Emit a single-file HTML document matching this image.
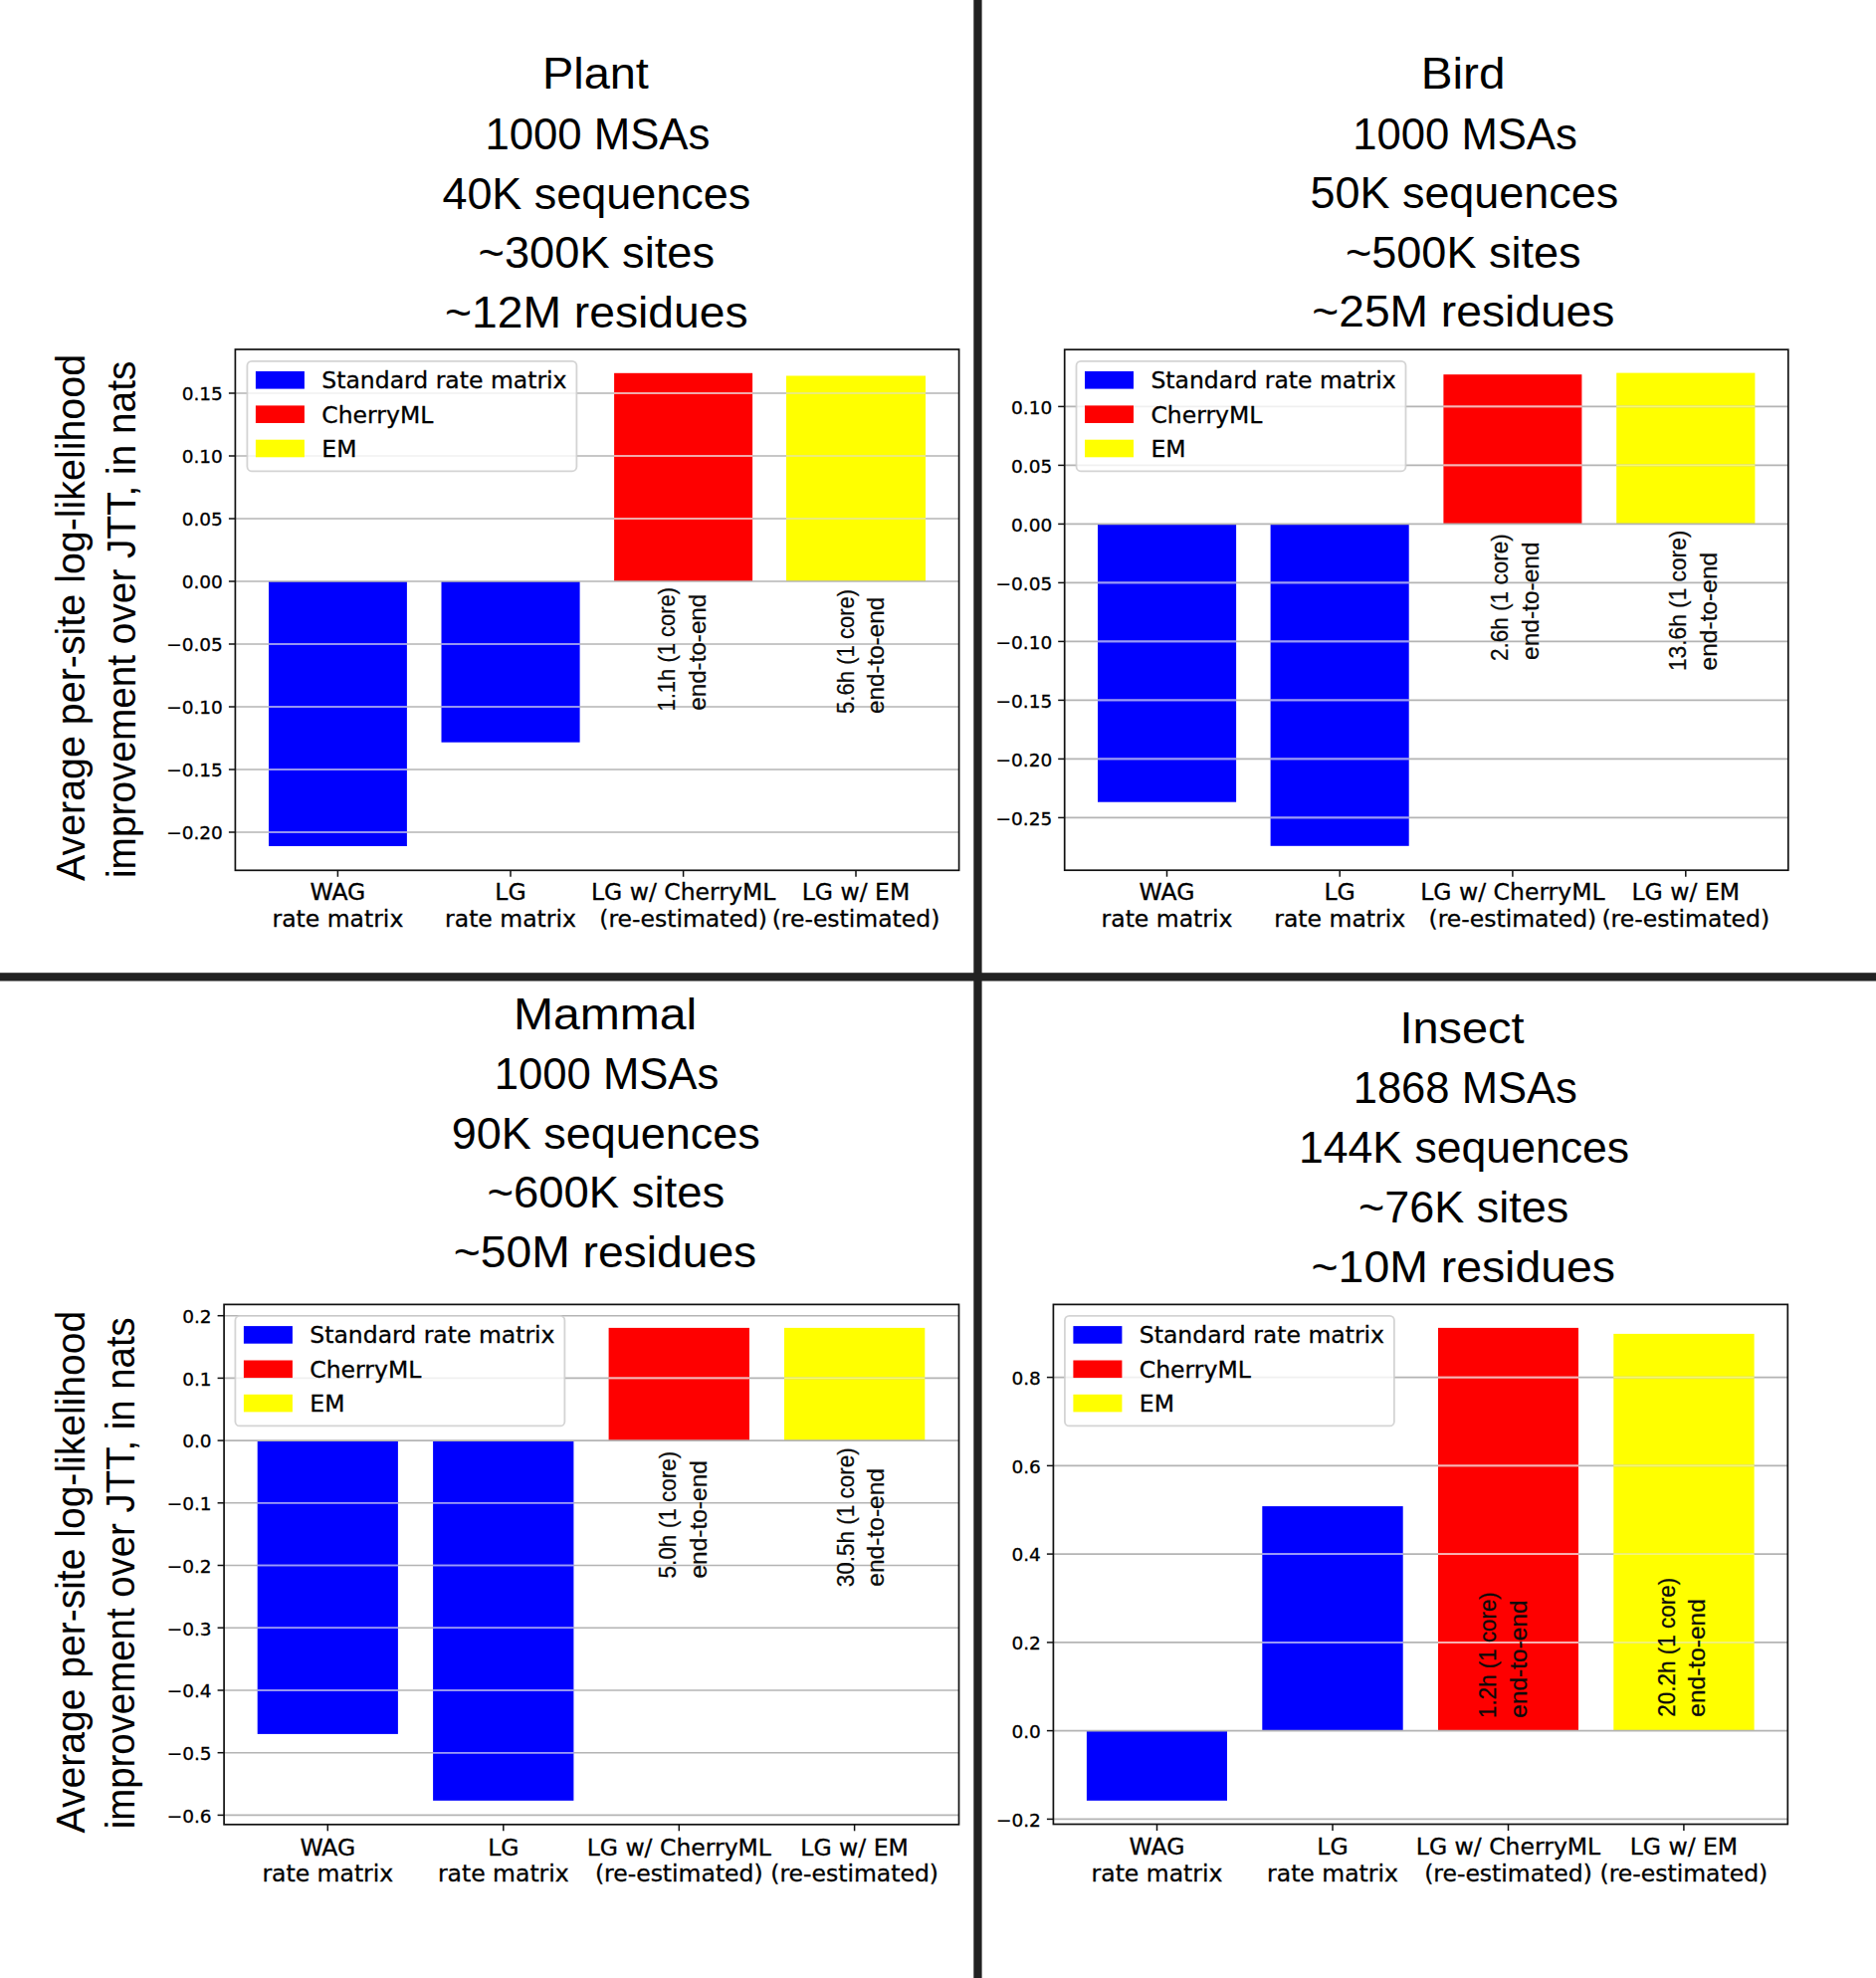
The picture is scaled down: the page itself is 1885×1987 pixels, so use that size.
<!DOCTYPE html>
<html lang="en"><head><meta charset="utf-8"><title>CherryML vs EM benchmark</title>
<style>
html,body{margin:0;padding:0;background:#fff;}
body{width:1885px;height:1987px;overflow:hidden;font-family:"Liberation Sans","DejaVu Sans",sans-serif;}
svg{display:block;}
text{white-space:pre;}
</style></head><body>
<svg width="1885" height="1987" viewBox="0 0 1885 1987">
<rect width="1885" height="1987" fill="#ffffff"/>
<rect x="270.0" y="584.0" width="138.9" height="266.0" fill="#0000fe"/>
<rect x="443.5" y="584.0" width="139.1" height="161.7" fill="#0000fe"/>
<rect x="617.1" y="374.8" width="139.0" height="209.2" fill="#fe0000"/>
<rect x="790.0" y="377.5" width="140.0" height="206.5" fill="#ffff00"/>
<line x1="236.4" x2="963.6" y1="395.0" y2="395.0" stroke="#b4b4b4" stroke-width="1.6"/>
<line x1="236.4" x2="963.6" y1="458.0" y2="458.0" stroke="#b4b4b4" stroke-width="1.6"/>
<line x1="236.4" x2="963.6" y1="521.0" y2="521.0" stroke="#b4b4b4" stroke-width="1.6"/>
<line x1="236.4" x2="963.6" y1="584.0" y2="584.0" stroke="#b4b4b4" stroke-width="1.6"/>
<line x1="236.4" x2="963.6" y1="647.0" y2="647.0" stroke="#b4b4b4" stroke-width="1.6"/>
<line x1="236.4" x2="963.6" y1="710.0" y2="710.0" stroke="#b4b4b4" stroke-width="1.6"/>
<line x1="236.4" x2="963.6" y1="773.0" y2="773.0" stroke="#b4b4b4" stroke-width="1.6"/>
<line x1="236.4" x2="963.6" y1="836.0" y2="836.0" stroke="#b4b4b4" stroke-width="1.6"/>
<line x1="270.0" x2="408.9" y1="647.0" y2="647.0" stroke="#9a9aff" stroke-width="1.6"/>
<line x1="270.0" x2="408.9" y1="710.0" y2="710.0" stroke="#9a9aff" stroke-width="1.6"/>
<line x1="270.0" x2="408.9" y1="773.0" y2="773.0" stroke="#9a9aff" stroke-width="1.6"/>
<line x1="270.0" x2="408.9" y1="836.0" y2="836.0" stroke="#9a9aff" stroke-width="1.6"/>
<line x1="443.5" x2="582.6" y1="647.0" y2="647.0" stroke="#9a9aff" stroke-width="1.6"/>
<line x1="443.5" x2="582.6" y1="710.0" y2="710.0" stroke="#9a9aff" stroke-width="1.6"/>
<line x1="617.1" x2="756.1" y1="395.0" y2="395.0" stroke="#ffb4b4" stroke-width="1.6"/>
<line x1="617.1" x2="756.1" y1="458.0" y2="458.0" stroke="#ffb4b4" stroke-width="1.6"/>
<line x1="617.1" x2="756.1" y1="521.0" y2="521.0" stroke="#ffb4b4" stroke-width="1.6"/>
<line x1="790.0" x2="930.0" y1="395.0" y2="395.0" stroke="#f8f870" stroke-width="1.6"/>
<line x1="790.0" x2="930.0" y1="458.0" y2="458.0" stroke="#f8f870" stroke-width="1.6"/>
<line x1="790.0" x2="930.0" y1="521.0" y2="521.0" stroke="#f8f870" stroke-width="1.6"/>
<text transform="translate(677.5,714.5) rotate(-90)" font-family="'Liberation Sans','DejaVu Sans',sans-serif" font-size="24.0" textLength="124.6" lengthAdjust="spacingAndGlyphs" fill="#0a0a0a" stroke="#0a0a0a" stroke-width="0.25">1.1h (1 core)</text>
<text transform="translate(709.0,713.8) rotate(-90)" font-family="'Liberation Sans','DejaVu Sans',sans-serif" font-size="24.0" textLength="117.1" lengthAdjust="spacingAndGlyphs" fill="#0a0a0a" stroke="#0a0a0a" stroke-width="0.25">end-to-end</text>
<text transform="translate(858.0,716.9) rotate(-90)" font-family="'Liberation Sans','DejaVu Sans',sans-serif" font-size="24.0" textLength="125.1" lengthAdjust="spacingAndGlyphs" fill="#0a0a0a" stroke="#0a0a0a" stroke-width="0.25">5.6h (1 core)</text>
<text transform="translate(887.5,717.0) rotate(-90)" font-family="'Liberation Sans','DejaVu Sans',sans-serif" font-size="24.0" textLength="117.3" lengthAdjust="spacingAndGlyphs" fill="#0a0a0a" stroke="#0a0a0a" stroke-width="0.25">end-to-end</text>
<rect x="236.4" y="351.0" width="727.2" height="523.3" fill="none" stroke="#111" stroke-width="1.7"/>
<line x1="229.9" x2="236.4" y1="395.0" y2="395.0" stroke="#111" stroke-width="1.5"/>
<text x="223.9" y="402.3" text-anchor="end" font-family="'DejaVu Sans','Liberation Sans',sans-serif" font-size="18.5" fill="#000" stroke="#000" stroke-width="0.3">0.15</text>
<line x1="229.9" x2="236.4" y1="458.0" y2="458.0" stroke="#111" stroke-width="1.5"/>
<text x="223.9" y="465.3" text-anchor="end" font-family="'DejaVu Sans','Liberation Sans',sans-serif" font-size="18.5" fill="#000" stroke="#000" stroke-width="0.3">0.10</text>
<line x1="229.9" x2="236.4" y1="521.0" y2="521.0" stroke="#111" stroke-width="1.5"/>
<text x="223.9" y="528.3" text-anchor="end" font-family="'DejaVu Sans','Liberation Sans',sans-serif" font-size="18.5" fill="#000" stroke="#000" stroke-width="0.3">0.05</text>
<line x1="229.9" x2="236.4" y1="584.0" y2="584.0" stroke="#111" stroke-width="1.5"/>
<text x="223.9" y="591.3" text-anchor="end" font-family="'DejaVu Sans','Liberation Sans',sans-serif" font-size="18.5" fill="#000" stroke="#000" stroke-width="0.3">0.00</text>
<line x1="229.9" x2="236.4" y1="647.0" y2="647.0" stroke="#111" stroke-width="1.5"/>
<text x="223.9" y="654.3" text-anchor="end" font-family="'DejaVu Sans','Liberation Sans',sans-serif" font-size="18.5" fill="#000" stroke="#000" stroke-width="0.3">−0.05</text>
<line x1="229.9" x2="236.4" y1="710.0" y2="710.0" stroke="#111" stroke-width="1.5"/>
<text x="223.9" y="717.3" text-anchor="end" font-family="'DejaVu Sans','Liberation Sans',sans-serif" font-size="18.5" fill="#000" stroke="#000" stroke-width="0.3">−0.10</text>
<line x1="229.9" x2="236.4" y1="773.0" y2="773.0" stroke="#111" stroke-width="1.5"/>
<text x="223.9" y="780.3" text-anchor="end" font-family="'DejaVu Sans','Liberation Sans',sans-serif" font-size="18.5" fill="#000" stroke="#000" stroke-width="0.3">−0.15</text>
<line x1="229.9" x2="236.4" y1="836.0" y2="836.0" stroke="#111" stroke-width="1.5"/>
<text x="223.9" y="843.3" text-anchor="end" font-family="'DejaVu Sans','Liberation Sans',sans-serif" font-size="18.5" fill="#000" stroke="#000" stroke-width="0.3">−0.20</text>
<line x1="339.4" x2="339.4" y1="874.3" y2="880.8" stroke="#111" stroke-width="1.5"/>
<text x="339.4" y="904.2" text-anchor="middle" font-family="'DejaVu Sans','Liberation Sans',sans-serif" font-size="23.5" fill="#000" stroke="#000" stroke-width="0.3">WAG</text>
<text x="339.4" y="930.7" text-anchor="middle" font-family="'DejaVu Sans','Liberation Sans',sans-serif" font-size="23.5" fill="#000" stroke="#000" stroke-width="0.3">rate matrix</text>
<line x1="513.0" x2="513.0" y1="874.3" y2="880.8" stroke="#111" stroke-width="1.5"/>
<text x="513.0" y="904.2" text-anchor="middle" font-family="'DejaVu Sans','Liberation Sans',sans-serif" font-size="23.5" fill="#000" stroke="#000" stroke-width="0.3">LG</text>
<text x="513.0" y="930.7" text-anchor="middle" font-family="'DejaVu Sans','Liberation Sans',sans-serif" font-size="23.5" fill="#000" stroke="#000" stroke-width="0.3">rate matrix</text>
<line x1="686.6" x2="686.6" y1="874.3" y2="880.8" stroke="#111" stroke-width="1.5"/>
<text x="686.6" y="904.2" text-anchor="middle" font-family="'DejaVu Sans','Liberation Sans',sans-serif" font-size="23.5" fill="#000" stroke="#000" stroke-width="0.3">LG w/ CherryML</text>
<text x="686.6" y="930.7" text-anchor="middle" font-family="'DejaVu Sans','Liberation Sans',sans-serif" font-size="23.5" fill="#000" stroke="#000" stroke-width="0.3">(re-estimated)</text>
<line x1="860.0" x2="860.0" y1="874.3" y2="880.8" stroke="#111" stroke-width="1.5"/>
<text x="860.0" y="904.2" text-anchor="middle" font-family="'DejaVu Sans','Liberation Sans',sans-serif" font-size="23.5" fill="#000" stroke="#000" stroke-width="0.3">LG w/ EM</text>
<text x="860.0" y="930.7" text-anchor="middle" font-family="'DejaVu Sans','Liberation Sans',sans-serif" font-size="23.5" fill="#000" stroke="#000" stroke-width="0.3">(re-estimated)</text>
<rect x="248.4" y="362.8" width="331.0" height="110.5" rx="4.5" ry="4.5" fill="#ffffff" fill-opacity="0.8" stroke="#cccccc" stroke-opacity="0.85" stroke-width="1.8"/>
<rect x="256.9" y="373.0" width="49" height="17.6" fill="#0000fe"/>
<text x="323.3" y="390.2" font-family="'DejaVu Sans','Liberation Sans',sans-serif" font-size="23.5" fill="#000" stroke="#000" stroke-width="0.3">Standard rate matrix</text>
<rect x="256.9" y="407.4" width="49" height="17.6" fill="#fe0000"/>
<text x="323.3" y="424.6" font-family="'DejaVu Sans','Liberation Sans',sans-serif" font-size="23.5" fill="#000" stroke="#000" stroke-width="0.3">CherryML</text>
<rect x="256.9" y="441.7" width="49" height="17.6" fill="#ffff00"/>
<text x="323.3" y="458.9" font-family="'DejaVu Sans','Liberation Sans',sans-serif" font-size="23.5" fill="#000" stroke="#000" stroke-width="0.3">EM</text>
<text x="544.9" y="89.3" font-family="'Liberation Sans','DejaVu Sans',sans-serif" font-size="45.0" textLength="107.0" lengthAdjust="spacingAndGlyphs" fill="#000">Plant</text>
<text x="487.4" y="149.6" font-family="'Liberation Sans','DejaVu Sans',sans-serif" font-size="45.0" textLength="226.0" lengthAdjust="spacingAndGlyphs" fill="#000">1000 MSAs</text>
<text x="444.4" y="209.5" font-family="'Liberation Sans','DejaVu Sans',sans-serif" font-size="45.0" textLength="309.8" lengthAdjust="spacingAndGlyphs" fill="#000">40K sequences</text>
<text x="480.6" y="269.3" font-family="'Liberation Sans','DejaVu Sans',sans-serif" font-size="45.0" textLength="237.4" lengthAdjust="spacingAndGlyphs" fill="#000">~300K sites</text>
<text x="447.0" y="329.1" font-family="'Liberation Sans','DejaVu Sans',sans-serif" font-size="45.0" textLength="304.6" lengthAdjust="spacingAndGlyphs" fill="#000">~12M residues</text>
<text transform="translate(85.4,885.1) rotate(-90)" font-family="'Liberation Sans','DejaVu Sans',sans-serif" font-size="41.0" textLength="529.2" lengthAdjust="spacingAndGlyphs" fill="#000">Average per-site log-likelihood</text>
<text transform="translate(135.6,882.0) rotate(-90)" font-family="'Liberation Sans','DejaVu Sans',sans-serif" font-size="41.0" textLength="519.3" lengthAdjust="spacingAndGlyphs" fill="#000">improvement over JTT, in nats</text>
<rect x="1103.0" y="526.4" width="139.1" height="279.3" fill="#0000fe"/>
<rect x="1276.6" y="526.4" width="139.1" height="323.4" fill="#0000fe"/>
<rect x="1450.4" y="376.2" width="139.0" height="150.2" fill="#fe0000"/>
<rect x="1624.2" y="374.6" width="139.2" height="151.8" fill="#ffff00"/>
<line x1="1069.7" x2="1796.8" y1="408.4" y2="408.4" stroke="#b4b4b4" stroke-width="1.6"/>
<line x1="1069.7" x2="1796.8" y1="467.4" y2="467.4" stroke="#b4b4b4" stroke-width="1.6"/>
<line x1="1069.7" x2="1796.8" y1="526.4" y2="526.4" stroke="#b4b4b4" stroke-width="1.6"/>
<line x1="1069.7" x2="1796.8" y1="585.4" y2="585.4" stroke="#b4b4b4" stroke-width="1.6"/>
<line x1="1069.7" x2="1796.8" y1="644.4" y2="644.4" stroke="#b4b4b4" stroke-width="1.6"/>
<line x1="1069.7" x2="1796.8" y1="703.4" y2="703.4" stroke="#b4b4b4" stroke-width="1.6"/>
<line x1="1069.7" x2="1796.8" y1="762.4" y2="762.4" stroke="#b4b4b4" stroke-width="1.6"/>
<line x1="1069.7" x2="1796.8" y1="821.4" y2="821.4" stroke="#b4b4b4" stroke-width="1.6"/>
<line x1="1103.0" x2="1242.1" y1="585.4" y2="585.4" stroke="#9a9aff" stroke-width="1.6"/>
<line x1="1103.0" x2="1242.1" y1="644.4" y2="644.4" stroke="#9a9aff" stroke-width="1.6"/>
<line x1="1103.0" x2="1242.1" y1="703.4" y2="703.4" stroke="#9a9aff" stroke-width="1.6"/>
<line x1="1103.0" x2="1242.1" y1="762.4" y2="762.4" stroke="#9a9aff" stroke-width="1.6"/>
<line x1="1276.6" x2="1415.7" y1="585.4" y2="585.4" stroke="#9a9aff" stroke-width="1.6"/>
<line x1="1276.6" x2="1415.7" y1="644.4" y2="644.4" stroke="#9a9aff" stroke-width="1.6"/>
<line x1="1276.6" x2="1415.7" y1="703.4" y2="703.4" stroke="#9a9aff" stroke-width="1.6"/>
<line x1="1276.6" x2="1415.7" y1="762.4" y2="762.4" stroke="#9a9aff" stroke-width="1.6"/>
<line x1="1276.6" x2="1415.7" y1="821.4" y2="821.4" stroke="#9a9aff" stroke-width="1.6"/>
<line x1="1450.4" x2="1589.4" y1="408.4" y2="408.4" stroke="#ffb4b4" stroke-width="1.6"/>
<line x1="1450.4" x2="1589.4" y1="467.4" y2="467.4" stroke="#ffb4b4" stroke-width="1.6"/>
<line x1="1624.2" x2="1763.4" y1="408.4" y2="408.4" stroke="#f8f870" stroke-width="1.6"/>
<line x1="1624.2" x2="1763.4" y1="467.4" y2="467.4" stroke="#f8f870" stroke-width="1.6"/>
<text transform="translate(1514.5,664.1) rotate(-90)" font-family="'Liberation Sans','DejaVu Sans',sans-serif" font-size="24.0" textLength="127.9" lengthAdjust="spacingAndGlyphs" fill="#0a0a0a" stroke="#0a0a0a" stroke-width="0.25">2.6h (1 core)</text>
<text transform="translate(1546.2,663.0) rotate(-90)" font-family="'Liberation Sans','DejaVu Sans',sans-serif" font-size="24.0" textLength="118.6" lengthAdjust="spacingAndGlyphs" fill="#0a0a0a" stroke="#0a0a0a" stroke-width="0.25">end-to-end</text>
<text transform="translate(1694.0,674.1) rotate(-90)" font-family="'Liberation Sans','DejaVu Sans',sans-serif" font-size="24.0" textLength="141.5" lengthAdjust="spacingAndGlyphs" fill="#0a0a0a" stroke="#0a0a0a" stroke-width="0.25">13.6h (1 core)</text>
<text transform="translate(1724.6,673.4) rotate(-90)" font-family="'Liberation Sans','DejaVu Sans',sans-serif" font-size="24.0" textLength="118.6" lengthAdjust="spacingAndGlyphs" fill="#0a0a0a" stroke="#0a0a0a" stroke-width="0.25">end-to-end</text>
<rect x="1069.7" y="351.2" width="727.1" height="523.0" fill="none" stroke="#111" stroke-width="1.7"/>
<line x1="1063.2" x2="1069.7" y1="408.4" y2="408.4" stroke="#111" stroke-width="1.5"/>
<text x="1057.2" y="415.7" text-anchor="end" font-family="'DejaVu Sans','Liberation Sans',sans-serif" font-size="18.5" fill="#000" stroke="#000" stroke-width="0.3">0.10</text>
<line x1="1063.2" x2="1069.7" y1="467.4" y2="467.4" stroke="#111" stroke-width="1.5"/>
<text x="1057.2" y="474.7" text-anchor="end" font-family="'DejaVu Sans','Liberation Sans',sans-serif" font-size="18.5" fill="#000" stroke="#000" stroke-width="0.3">0.05</text>
<line x1="1063.2" x2="1069.7" y1="526.4" y2="526.4" stroke="#111" stroke-width="1.5"/>
<text x="1057.2" y="533.7" text-anchor="end" font-family="'DejaVu Sans','Liberation Sans',sans-serif" font-size="18.5" fill="#000" stroke="#000" stroke-width="0.3">0.00</text>
<line x1="1063.2" x2="1069.7" y1="585.4" y2="585.4" stroke="#111" stroke-width="1.5"/>
<text x="1057.2" y="592.7" text-anchor="end" font-family="'DejaVu Sans','Liberation Sans',sans-serif" font-size="18.5" fill="#000" stroke="#000" stroke-width="0.3">−0.05</text>
<line x1="1063.2" x2="1069.7" y1="644.4" y2="644.4" stroke="#111" stroke-width="1.5"/>
<text x="1057.2" y="651.7" text-anchor="end" font-family="'DejaVu Sans','Liberation Sans',sans-serif" font-size="18.5" fill="#000" stroke="#000" stroke-width="0.3">−0.10</text>
<line x1="1063.2" x2="1069.7" y1="703.4" y2="703.4" stroke="#111" stroke-width="1.5"/>
<text x="1057.2" y="710.7" text-anchor="end" font-family="'DejaVu Sans','Liberation Sans',sans-serif" font-size="18.5" fill="#000" stroke="#000" stroke-width="0.3">−0.15</text>
<line x1="1063.2" x2="1069.7" y1="762.4" y2="762.4" stroke="#111" stroke-width="1.5"/>
<text x="1057.2" y="769.7" text-anchor="end" font-family="'DejaVu Sans','Liberation Sans',sans-serif" font-size="18.5" fill="#000" stroke="#000" stroke-width="0.3">−0.20</text>
<line x1="1063.2" x2="1069.7" y1="821.4" y2="821.4" stroke="#111" stroke-width="1.5"/>
<text x="1057.2" y="828.7" text-anchor="end" font-family="'DejaVu Sans','Liberation Sans',sans-serif" font-size="18.5" fill="#000" stroke="#000" stroke-width="0.3">−0.25</text>
<line x1="1172.5" x2="1172.5" y1="874.2" y2="880.7" stroke="#111" stroke-width="1.5"/>
<text x="1172.5" y="904.1" text-anchor="middle" font-family="'DejaVu Sans','Liberation Sans',sans-serif" font-size="23.5" fill="#000" stroke="#000" stroke-width="0.3">WAG</text>
<text x="1172.5" y="930.6" text-anchor="middle" font-family="'DejaVu Sans','Liberation Sans',sans-serif" font-size="23.5" fill="#000" stroke="#000" stroke-width="0.3">rate matrix</text>
<line x1="1346.2" x2="1346.2" y1="874.2" y2="880.7" stroke="#111" stroke-width="1.5"/>
<text x="1346.2" y="904.1" text-anchor="middle" font-family="'DejaVu Sans','Liberation Sans',sans-serif" font-size="23.5" fill="#000" stroke="#000" stroke-width="0.3">LG</text>
<text x="1346.2" y="930.6" text-anchor="middle" font-family="'DejaVu Sans','Liberation Sans',sans-serif" font-size="23.5" fill="#000" stroke="#000" stroke-width="0.3">rate matrix</text>
<line x1="1519.9" x2="1519.9" y1="874.2" y2="880.7" stroke="#111" stroke-width="1.5"/>
<text x="1519.9" y="904.1" text-anchor="middle" font-family="'DejaVu Sans','Liberation Sans',sans-serif" font-size="23.5" fill="#000" stroke="#000" stroke-width="0.3">LG w/ CherryML</text>
<text x="1519.9" y="930.6" text-anchor="middle" font-family="'DejaVu Sans','Liberation Sans',sans-serif" font-size="23.5" fill="#000" stroke="#000" stroke-width="0.3">(re-estimated)</text>
<line x1="1693.8" x2="1693.8" y1="874.2" y2="880.7" stroke="#111" stroke-width="1.5"/>
<text x="1693.8" y="904.1" text-anchor="middle" font-family="'DejaVu Sans','Liberation Sans',sans-serif" font-size="23.5" fill="#000" stroke="#000" stroke-width="0.3">LG w/ EM</text>
<text x="1693.8" y="930.6" text-anchor="middle" font-family="'DejaVu Sans','Liberation Sans',sans-serif" font-size="23.5" fill="#000" stroke="#000" stroke-width="0.3">(re-estimated)</text>
<rect x="1081.5" y="362.8" width="331.0" height="110.5" rx="4.5" ry="4.5" fill="#ffffff" fill-opacity="0.8" stroke="#cccccc" stroke-opacity="0.85" stroke-width="1.8"/>
<rect x="1090.0" y="373.0" width="49" height="17.6" fill="#0000fe"/>
<text x="1156.4" y="390.2" font-family="'DejaVu Sans','Liberation Sans',sans-serif" font-size="23.5" fill="#000" stroke="#000" stroke-width="0.3">Standard rate matrix</text>
<rect x="1090.0" y="407.4" width="49" height="17.6" fill="#fe0000"/>
<text x="1156.4" y="424.6" font-family="'DejaVu Sans','Liberation Sans',sans-serif" font-size="23.5" fill="#000" stroke="#000" stroke-width="0.3">CherryML</text>
<rect x="1090.0" y="441.7" width="49" height="17.6" fill="#ffff00"/>
<text x="1156.4" y="458.9" font-family="'DejaVu Sans','Liberation Sans',sans-serif" font-size="23.5" fill="#000" stroke="#000" stroke-width="0.3">EM</text>
<text x="1427.7" y="88.9" font-family="'Liberation Sans','DejaVu Sans',sans-serif" font-size="45.0" textLength="84.7" lengthAdjust="spacingAndGlyphs" fill="#000">Bird</text>
<text x="1359.2" y="150.0" font-family="'Liberation Sans','DejaVu Sans',sans-serif" font-size="45.0" textLength="225.6" lengthAdjust="spacingAndGlyphs" fill="#000">1000 MSAs</text>
<text x="1316.6" y="208.9" font-family="'Liberation Sans','DejaVu Sans',sans-serif" font-size="45.0" textLength="309.5" lengthAdjust="spacingAndGlyphs" fill="#000">50K sequences</text>
<text x="1351.9" y="268.9" font-family="'Liberation Sans','DejaVu Sans',sans-serif" font-size="45.0" textLength="236.7" lengthAdjust="spacingAndGlyphs" fill="#000">~500K sites</text>
<text x="1318.3" y="328.4" font-family="'Liberation Sans','DejaVu Sans',sans-serif" font-size="45.0" textLength="304.0" lengthAdjust="spacingAndGlyphs" fill="#000">~25M residues</text>
<rect x="258.7" y="1447.1" width="141.2" height="294.8" fill="#0000fe"/>
<rect x="435.1" y="1447.1" width="141.3" height="361.7" fill="#0000fe"/>
<rect x="611.6" y="1333.9" width="141.4" height="113.2" fill="#fe0000"/>
<rect x="788.0" y="1333.9" width="141.3" height="113.2" fill="#ffff00"/>
<line x1="225.1" x2="963.5" y1="1321.7" y2="1321.7" stroke="#b4b4b4" stroke-width="1.6"/>
<line x1="225.1" x2="963.5" y1="1384.4" y2="1384.4" stroke="#b4b4b4" stroke-width="1.6"/>
<line x1="225.1" x2="963.5" y1="1447.1" y2="1447.1" stroke="#b4b4b4" stroke-width="1.6"/>
<line x1="225.1" x2="963.5" y1="1509.8" y2="1509.8" stroke="#b4b4b4" stroke-width="1.6"/>
<line x1="225.1" x2="963.5" y1="1572.5" y2="1572.5" stroke="#b4b4b4" stroke-width="1.6"/>
<line x1="225.1" x2="963.5" y1="1635.2" y2="1635.2" stroke="#b4b4b4" stroke-width="1.6"/>
<line x1="225.1" x2="963.5" y1="1698.0" y2="1698.0" stroke="#b4b4b4" stroke-width="1.6"/>
<line x1="225.1" x2="963.5" y1="1760.7" y2="1760.7" stroke="#b4b4b4" stroke-width="1.6"/>
<line x1="225.1" x2="963.5" y1="1823.4" y2="1823.4" stroke="#b4b4b4" stroke-width="1.6"/>
<line x1="258.7" x2="399.9" y1="1509.8" y2="1509.8" stroke="#9a9aff" stroke-width="1.6"/>
<line x1="258.7" x2="399.9" y1="1572.5" y2="1572.5" stroke="#9a9aff" stroke-width="1.6"/>
<line x1="258.7" x2="399.9" y1="1635.2" y2="1635.2" stroke="#9a9aff" stroke-width="1.6"/>
<line x1="258.7" x2="399.9" y1="1698.0" y2="1698.0" stroke="#9a9aff" stroke-width="1.6"/>
<line x1="435.1" x2="576.4" y1="1509.8" y2="1509.8" stroke="#9a9aff" stroke-width="1.6"/>
<line x1="435.1" x2="576.4" y1="1572.5" y2="1572.5" stroke="#9a9aff" stroke-width="1.6"/>
<line x1="435.1" x2="576.4" y1="1635.2" y2="1635.2" stroke="#9a9aff" stroke-width="1.6"/>
<line x1="435.1" x2="576.4" y1="1698.0" y2="1698.0" stroke="#9a9aff" stroke-width="1.6"/>
<line x1="435.1" x2="576.4" y1="1760.7" y2="1760.7" stroke="#9a9aff" stroke-width="1.6"/>
<line x1="611.6" x2="753.0" y1="1384.4" y2="1384.4" stroke="#ffb4b4" stroke-width="1.6"/>
<line x1="788.0" x2="929.3" y1="1384.4" y2="1384.4" stroke="#f8f870" stroke-width="1.6"/>
<text transform="translate(678.5,1585.5) rotate(-90)" font-family="'Liberation Sans','DejaVu Sans',sans-serif" font-size="24.0" textLength="127.8" lengthAdjust="spacingAndGlyphs" fill="#0a0a0a" stroke="#0a0a0a" stroke-width="0.25">5.0h (1 core)</text>
<text transform="translate(709.7,1585.6) rotate(-90)" font-family="'Liberation Sans','DejaVu Sans',sans-serif" font-size="24.0" textLength="118.5" lengthAdjust="spacingAndGlyphs" fill="#0a0a0a" stroke="#0a0a0a" stroke-width="0.25">end-to-end</text>
<text transform="translate(858.4,1594.3) rotate(-90)" font-family="'Liberation Sans','DejaVu Sans',sans-serif" font-size="24.0" textLength="140.1" lengthAdjust="spacingAndGlyphs" fill="#0a0a0a" stroke="#0a0a0a" stroke-width="0.25">30.5h (1 core)</text>
<text transform="translate(888.0,1593.7) rotate(-90)" font-family="'Liberation Sans','DejaVu Sans',sans-serif" font-size="24.0" textLength="118.7" lengthAdjust="spacingAndGlyphs" fill="#0a0a0a" stroke="#0a0a0a" stroke-width="0.25">end-to-end</text>
<rect x="225.1" y="1310.4" width="738.4" height="522.4" fill="none" stroke="#111" stroke-width="1.7"/>
<line x1="218.6" x2="225.1" y1="1321.7" y2="1321.7" stroke="#111" stroke-width="1.5"/>
<text x="212.6" y="1329.0" text-anchor="end" font-family="'DejaVu Sans','Liberation Sans',sans-serif" font-size="18.5" fill="#000" stroke="#000" stroke-width="0.3">0.2</text>
<line x1="218.6" x2="225.1" y1="1384.4" y2="1384.4" stroke="#111" stroke-width="1.5"/>
<text x="212.6" y="1391.7" text-anchor="end" font-family="'DejaVu Sans','Liberation Sans',sans-serif" font-size="18.5" fill="#000" stroke="#000" stroke-width="0.3">0.1</text>
<line x1="218.6" x2="225.1" y1="1447.1" y2="1447.1" stroke="#111" stroke-width="1.5"/>
<text x="212.6" y="1454.4" text-anchor="end" font-family="'DejaVu Sans','Liberation Sans',sans-serif" font-size="18.5" fill="#000" stroke="#000" stroke-width="0.3">0.0</text>
<line x1="218.6" x2="225.1" y1="1509.8" y2="1509.8" stroke="#111" stroke-width="1.5"/>
<text x="212.6" y="1517.1" text-anchor="end" font-family="'DejaVu Sans','Liberation Sans',sans-serif" font-size="18.5" fill="#000" stroke="#000" stroke-width="0.3">−0.1</text>
<line x1="218.6" x2="225.1" y1="1572.5" y2="1572.5" stroke="#111" stroke-width="1.5"/>
<text x="212.6" y="1579.8" text-anchor="end" font-family="'DejaVu Sans','Liberation Sans',sans-serif" font-size="18.5" fill="#000" stroke="#000" stroke-width="0.3">−0.2</text>
<line x1="218.6" x2="225.1" y1="1635.2" y2="1635.2" stroke="#111" stroke-width="1.5"/>
<text x="212.6" y="1642.5" text-anchor="end" font-family="'DejaVu Sans','Liberation Sans',sans-serif" font-size="18.5" fill="#000" stroke="#000" stroke-width="0.3">−0.3</text>
<line x1="218.6" x2="225.1" y1="1698.0" y2="1698.0" stroke="#111" stroke-width="1.5"/>
<text x="212.6" y="1705.3" text-anchor="end" font-family="'DejaVu Sans','Liberation Sans',sans-serif" font-size="18.5" fill="#000" stroke="#000" stroke-width="0.3">−0.4</text>
<line x1="218.6" x2="225.1" y1="1760.7" y2="1760.7" stroke="#111" stroke-width="1.5"/>
<text x="212.6" y="1768.0" text-anchor="end" font-family="'DejaVu Sans','Liberation Sans',sans-serif" font-size="18.5" fill="#000" stroke="#000" stroke-width="0.3">−0.5</text>
<line x1="218.6" x2="225.1" y1="1823.4" y2="1823.4" stroke="#111" stroke-width="1.5"/>
<text x="212.6" y="1830.7" text-anchor="end" font-family="'DejaVu Sans','Liberation Sans',sans-serif" font-size="18.5" fill="#000" stroke="#000" stroke-width="0.3">−0.6</text>
<line x1="329.3" x2="329.3" y1="1832.8" y2="1839.3" stroke="#111" stroke-width="1.5"/>
<text x="329.3" y="1863.5" text-anchor="middle" font-family="'DejaVu Sans','Liberation Sans',sans-serif" font-size="23.5" fill="#000" stroke="#000" stroke-width="0.3">WAG</text>
<text x="329.3" y="1890.0" text-anchor="middle" font-family="'DejaVu Sans','Liberation Sans',sans-serif" font-size="23.5" fill="#000" stroke="#000" stroke-width="0.3">rate matrix</text>
<line x1="505.8" x2="505.8" y1="1832.8" y2="1839.3" stroke="#111" stroke-width="1.5"/>
<text x="505.8" y="1863.5" text-anchor="middle" font-family="'DejaVu Sans','Liberation Sans',sans-serif" font-size="23.5" fill="#000" stroke="#000" stroke-width="0.3">LG</text>
<text x="505.8" y="1890.0" text-anchor="middle" font-family="'DejaVu Sans','Liberation Sans',sans-serif" font-size="23.5" fill="#000" stroke="#000" stroke-width="0.3">rate matrix</text>
<line x1="682.3" x2="682.3" y1="1832.8" y2="1839.3" stroke="#111" stroke-width="1.5"/>
<text x="682.3" y="1863.5" text-anchor="middle" font-family="'DejaVu Sans','Liberation Sans',sans-serif" font-size="23.5" fill="#000" stroke="#000" stroke-width="0.3">LG w/ CherryML</text>
<text x="682.3" y="1890.0" text-anchor="middle" font-family="'DejaVu Sans','Liberation Sans',sans-serif" font-size="23.5" fill="#000" stroke="#000" stroke-width="0.3">(re-estimated)</text>
<line x1="858.6" x2="858.6" y1="1832.8" y2="1839.3" stroke="#111" stroke-width="1.5"/>
<text x="858.6" y="1863.5" text-anchor="middle" font-family="'DejaVu Sans','Liberation Sans',sans-serif" font-size="23.5" fill="#000" stroke="#000" stroke-width="0.3">LG w/ EM</text>
<text x="858.6" y="1890.0" text-anchor="middle" font-family="'DejaVu Sans','Liberation Sans',sans-serif" font-size="23.5" fill="#000" stroke="#000" stroke-width="0.3">(re-estimated)</text>
<rect x="236.4" y="1321.9" width="331.0" height="110.5" rx="4.5" ry="4.5" fill="#ffffff" fill-opacity="0.8" stroke="#cccccc" stroke-opacity="0.85" stroke-width="1.8"/>
<rect x="244.9" y="1332.1" width="49" height="17.6" fill="#0000fe"/>
<text x="311.3" y="1349.3" font-family="'DejaVu Sans','Liberation Sans',sans-serif" font-size="23.5" fill="#000" stroke="#000" stroke-width="0.3">Standard rate matrix</text>
<rect x="244.9" y="1366.5" width="49" height="17.6" fill="#fe0000"/>
<text x="311.3" y="1383.7" font-family="'DejaVu Sans','Liberation Sans',sans-serif" font-size="23.5" fill="#000" stroke="#000" stroke-width="0.3">CherryML</text>
<rect x="244.9" y="1400.8" width="49" height="17.6" fill="#ffff00"/>
<text x="311.3" y="1418.0" font-family="'DejaVu Sans','Liberation Sans',sans-serif" font-size="23.5" fill="#000" stroke="#000" stroke-width="0.3">EM</text>
<text x="515.9" y="1033.6" font-family="'Liberation Sans','DejaVu Sans',sans-serif" font-size="45.0" textLength="184.4" lengthAdjust="spacingAndGlyphs" fill="#000">Mammal</text>
<text x="496.7" y="1094.0" font-family="'Liberation Sans','DejaVu Sans',sans-serif" font-size="45.0" textLength="225.6" lengthAdjust="spacingAndGlyphs" fill="#000">1000 MSAs</text>
<text x="453.8" y="1153.5" font-family="'Liberation Sans','DejaVu Sans',sans-serif" font-size="45.0" textLength="309.8" lengthAdjust="spacingAndGlyphs" fill="#000">90K sequences</text>
<text x="489.4" y="1213.4" font-family="'Liberation Sans','DejaVu Sans',sans-serif" font-size="45.0" textLength="238.8" lengthAdjust="spacingAndGlyphs" fill="#000">~600K sites</text>
<text x="455.8" y="1272.8" font-family="'Liberation Sans','DejaVu Sans',sans-serif" font-size="45.0" textLength="304.4" lengthAdjust="spacingAndGlyphs" fill="#000">~50M residues</text>
<text transform="translate(85.4,1841.4) rotate(-90)" font-family="'Liberation Sans','DejaVu Sans',sans-serif" font-size="41.0" textLength="524.6" lengthAdjust="spacingAndGlyphs" fill="#000">Average per-site log-likelihood</text>
<text transform="translate(135.0,1837.3) rotate(-90)" font-family="'Liberation Sans','DejaVu Sans',sans-serif" font-size="41.0" textLength="514.1" lengthAdjust="spacingAndGlyphs" fill="#000">improvement over JTT, in nats</text>
<rect x="1091.9" y="1738.6" width="141.1" height="70.2" fill="#0000fe"/>
<rect x="1268.3" y="1513.1" width="141.4" height="225.5" fill="#0000fe"/>
<rect x="1445.0" y="1333.9" width="141.0" height="404.7" fill="#fe0000"/>
<rect x="1621.3" y="1339.9" width="141.3" height="398.7" fill="#ffff00"/>
<line x1="1058.4" x2="1796.3" y1="1383.6" y2="1383.6" stroke="#b4b4b4" stroke-width="1.6"/>
<line x1="1058.4" x2="1796.3" y1="1472.4" y2="1472.4" stroke="#b4b4b4" stroke-width="1.6"/>
<line x1="1058.4" x2="1796.3" y1="1561.1" y2="1561.1" stroke="#b4b4b4" stroke-width="1.6"/>
<line x1="1058.4" x2="1796.3" y1="1649.9" y2="1649.9" stroke="#b4b4b4" stroke-width="1.6"/>
<line x1="1058.4" x2="1796.3" y1="1738.6" y2="1738.6" stroke="#b4b4b4" stroke-width="1.6"/>
<line x1="1058.4" x2="1796.3" y1="1827.4" y2="1827.4" stroke="#b4b4b4" stroke-width="1.6"/>
<line x1="1268.3" x2="1409.7" y1="1561.1" y2="1561.1" stroke="#9a9aff" stroke-width="1.6"/>
<line x1="1268.3" x2="1409.7" y1="1649.9" y2="1649.9" stroke="#9a9aff" stroke-width="1.6"/>
<line x1="1445.0" x2="1586.0" y1="1383.6" y2="1383.6" stroke="#ffb4b4" stroke-width="1.6"/>
<line x1="1445.0" x2="1586.0" y1="1472.4" y2="1472.4" stroke="#ffb4b4" stroke-width="1.6"/>
<line x1="1445.0" x2="1586.0" y1="1561.1" y2="1561.1" stroke="#ffb4b4" stroke-width="1.6"/>
<line x1="1445.0" x2="1586.0" y1="1649.9" y2="1649.9" stroke="#ffb4b4" stroke-width="1.6"/>
<line x1="1621.3" x2="1762.6" y1="1383.6" y2="1383.6" stroke="#f8f870" stroke-width="1.6"/>
<line x1="1621.3" x2="1762.6" y1="1472.4" y2="1472.4" stroke="#f8f870" stroke-width="1.6"/>
<line x1="1621.3" x2="1762.6" y1="1561.1" y2="1561.1" stroke="#f8f870" stroke-width="1.6"/>
<line x1="1621.3" x2="1762.6" y1="1649.9" y2="1649.9" stroke="#f8f870" stroke-width="1.6"/>
<text transform="translate(1503.3,1725.9) rotate(-90)" font-family="'Liberation Sans','DejaVu Sans',sans-serif" font-size="24.0" textLength="126.7" lengthAdjust="spacingAndGlyphs" fill="#0a0a0a" stroke="#0a0a0a" stroke-width="0.25">1.2h (1 core)</text>
<text transform="translate(1534.2,1725.7) rotate(-90)" font-family="'Liberation Sans','DejaVu Sans',sans-serif" font-size="24.0" textLength="118.3" lengthAdjust="spacingAndGlyphs" fill="#0a0a0a" stroke="#0a0a0a" stroke-width="0.25">end-to-end</text>
<text transform="translate(1682.8,1724.8) rotate(-90)" font-family="'Liberation Sans','DejaVu Sans',sans-serif" font-size="24.0" textLength="140.0" lengthAdjust="spacingAndGlyphs" fill="#0a0a0a" stroke="#0a0a0a" stroke-width="0.25">20.2h (1 core)</text>
<text transform="translate(1713.0,1724.7) rotate(-90)" font-family="'Liberation Sans','DejaVu Sans',sans-serif" font-size="24.0" textLength="118.5" lengthAdjust="spacingAndGlyphs" fill="#0a0a0a" stroke="#0a0a0a" stroke-width="0.25">end-to-end</text>
<rect x="1058.4" y="1310.4" width="737.9" height="522.1" fill="none" stroke="#111" stroke-width="1.7"/>
<line x1="1051.9" x2="1058.4" y1="1383.6" y2="1383.6" stroke="#111" stroke-width="1.5"/>
<text x="1045.9" y="1390.9" text-anchor="end" font-family="'DejaVu Sans','Liberation Sans',sans-serif" font-size="18.5" fill="#000" stroke="#000" stroke-width="0.3">0.8</text>
<line x1="1051.9" x2="1058.4" y1="1472.4" y2="1472.4" stroke="#111" stroke-width="1.5"/>
<text x="1045.9" y="1479.7" text-anchor="end" font-family="'DejaVu Sans','Liberation Sans',sans-serif" font-size="18.5" fill="#000" stroke="#000" stroke-width="0.3">0.6</text>
<line x1="1051.9" x2="1058.4" y1="1561.1" y2="1561.1" stroke="#111" stroke-width="1.5"/>
<text x="1045.9" y="1568.4" text-anchor="end" font-family="'DejaVu Sans','Liberation Sans',sans-serif" font-size="18.5" fill="#000" stroke="#000" stroke-width="0.3">0.4</text>
<line x1="1051.9" x2="1058.4" y1="1649.9" y2="1649.9" stroke="#111" stroke-width="1.5"/>
<text x="1045.9" y="1657.2" text-anchor="end" font-family="'DejaVu Sans','Liberation Sans',sans-serif" font-size="18.5" fill="#000" stroke="#000" stroke-width="0.3">0.2</text>
<line x1="1051.9" x2="1058.4" y1="1738.6" y2="1738.6" stroke="#111" stroke-width="1.5"/>
<text x="1045.9" y="1745.9" text-anchor="end" font-family="'DejaVu Sans','Liberation Sans',sans-serif" font-size="18.5" fill="#000" stroke="#000" stroke-width="0.3">0.0</text>
<line x1="1051.9" x2="1058.4" y1="1827.4" y2="1827.4" stroke="#111" stroke-width="1.5"/>
<text x="1045.9" y="1834.7" text-anchor="end" font-family="'DejaVu Sans','Liberation Sans',sans-serif" font-size="18.5" fill="#000" stroke="#000" stroke-width="0.3">−0.2</text>
<line x1="1162.5" x2="1162.5" y1="1832.5" y2="1839.0" stroke="#111" stroke-width="1.5"/>
<text x="1162.5" y="1863.4" text-anchor="middle" font-family="'DejaVu Sans','Liberation Sans',sans-serif" font-size="23.5" fill="#000" stroke="#000" stroke-width="0.3">WAG</text>
<text x="1162.5" y="1889.9" text-anchor="middle" font-family="'DejaVu Sans','Liberation Sans',sans-serif" font-size="23.5" fill="#000" stroke="#000" stroke-width="0.3">rate matrix</text>
<line x1="1339.0" x2="1339.0" y1="1832.5" y2="1839.0" stroke="#111" stroke-width="1.5"/>
<text x="1339.0" y="1863.4" text-anchor="middle" font-family="'DejaVu Sans','Liberation Sans',sans-serif" font-size="23.5" fill="#000" stroke="#000" stroke-width="0.3">LG</text>
<text x="1339.0" y="1889.9" text-anchor="middle" font-family="'DejaVu Sans','Liberation Sans',sans-serif" font-size="23.5" fill="#000" stroke="#000" stroke-width="0.3">rate matrix</text>
<line x1="1515.5" x2="1515.5" y1="1832.5" y2="1839.0" stroke="#111" stroke-width="1.5"/>
<text x="1515.5" y="1863.4" text-anchor="middle" font-family="'DejaVu Sans','Liberation Sans',sans-serif" font-size="23.5" fill="#000" stroke="#000" stroke-width="0.3">LG w/ CherryML</text>
<text x="1515.5" y="1889.9" text-anchor="middle" font-family="'DejaVu Sans','Liberation Sans',sans-serif" font-size="23.5" fill="#000" stroke="#000" stroke-width="0.3">(re-estimated)</text>
<line x1="1691.9" x2="1691.9" y1="1832.5" y2="1839.0" stroke="#111" stroke-width="1.5"/>
<text x="1691.9" y="1863.4" text-anchor="middle" font-family="'DejaVu Sans','Liberation Sans',sans-serif" font-size="23.5" fill="#000" stroke="#000" stroke-width="0.3">LG w/ EM</text>
<text x="1691.9" y="1889.9" text-anchor="middle" font-family="'DejaVu Sans','Liberation Sans',sans-serif" font-size="23.5" fill="#000" stroke="#000" stroke-width="0.3">(re-estimated)</text>
<rect x="1069.9" y="1321.9" width="331.0" height="110.5" rx="4.5" ry="4.5" fill="#ffffff" fill-opacity="0.8" stroke="#cccccc" stroke-opacity="0.85" stroke-width="1.8"/>
<rect x="1078.4" y="1332.1" width="49" height="17.6" fill="#0000fe"/>
<text x="1144.8" y="1349.3" font-family="'DejaVu Sans','Liberation Sans',sans-serif" font-size="23.5" fill="#000" stroke="#000" stroke-width="0.3">Standard rate matrix</text>
<rect x="1078.4" y="1366.5" width="49" height="17.6" fill="#fe0000"/>
<text x="1144.8" y="1383.7" font-family="'DejaVu Sans','Liberation Sans',sans-serif" font-size="23.5" fill="#000" stroke="#000" stroke-width="0.3">CherryML</text>
<rect x="1078.4" y="1400.8" width="49" height="17.6" fill="#ffff00"/>
<text x="1144.8" y="1418.0" font-family="'DejaVu Sans','Liberation Sans',sans-serif" font-size="23.5" fill="#000" stroke="#000" stroke-width="0.3">EM</text>
<text x="1406.4" y="1048.2" font-family="'Liberation Sans','DejaVu Sans',sans-serif" font-size="45.0" textLength="125.1" lengthAdjust="spacingAndGlyphs" fill="#000">Insect</text>
<text x="1359.7" y="1108.0" font-family="'Liberation Sans','DejaVu Sans',sans-serif" font-size="45.0" textLength="225.1" lengthAdjust="spacingAndGlyphs" fill="#000">1868 MSAs</text>
<text x="1305.0" y="1168.3" font-family="'Liberation Sans','DejaVu Sans',sans-serif" font-size="45.0" textLength="332.1" lengthAdjust="spacingAndGlyphs" fill="#000">144K sequences</text>
<text x="1365.1" y="1228.1" font-family="'Liberation Sans','DejaVu Sans',sans-serif" font-size="45.0" textLength="211.2" lengthAdjust="spacingAndGlyphs" fill="#000">~76K sites</text>
<text x="1317.5" y="1288.2" font-family="'Liberation Sans','DejaVu Sans',sans-serif" font-size="45.0" textLength="305.5" lengthAdjust="spacingAndGlyphs" fill="#000">~10M residues</text>
<rect x="978.3" y="0" width="8.3" height="1987" fill="#222"/>
<rect x="0" y="977.2" width="1885" height="8.3" fill="#222"/>
</svg>
</body></html>
